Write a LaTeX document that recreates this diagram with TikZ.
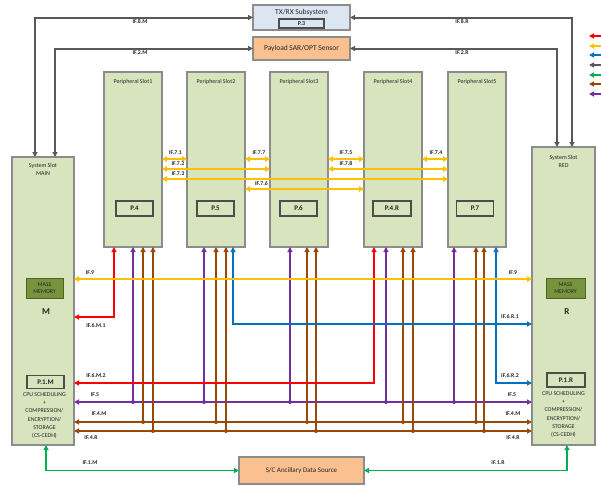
\documentclass[tikz,border=0pt]{standalone}
\usepackage{fontspec}
\setmainfont{Carlito}
\usetikzlibrary{arrows.meta,calc}
\definecolor{slotgreen}{HTML}{D7E4BD}
\definecolor{boxgray}{HTML}{8C8C8C}
\definecolor{innergray}{HTML}{4D4D4D}
\definecolor{peach}{HTML}{FAC090}
\definecolor{txblue}{HTML}{DCE6F2}
\definecolor{massgreen}{HTML}{77933C}
\definecolor{massborder}{HTML}{4F6228}
\definecolor{cred}{HTML}{FF0000}
\definecolor{cyel}{HTML}{FFC000}
\definecolor{cblue}{HTML}{0070C0}
\definecolor{cgray}{HTML}{595959}
\definecolor{cgreen}{HTML}{00B050}
\definecolor{cbrown}{HTML}{984807}
\definecolor{cpurple}{HTML}{7030A0}
\definecolor{txt}{HTML}{262626}
\begin{document}
\begin{tikzpicture}[x=1pt,y=-1pt,
  >={Triangle[length=5pt,width=5pt]},
  box/.style={draw=boxgray,line width=1.3pt,inner sep=0pt,outer sep=0pt},
  slotbox/.style={box,fill=slotgreen,minimum width=58pt,minimum height=175pt,anchor=north west},
  pbox/.style={draw=innergray,line width=1.2pt,fill=slotgreen,inner sep=0pt,outer sep=0pt,minimum width=37pt,minimum height=15pt,font=\fontsize{7}{8}\selectfont\bfseries,text=txt},
  massbox/.style={draw=massborder,line width=0.8pt,fill=massgreen,inner sep=0pt,minimum width=37pt,minimum height=20pt,align=center,font=\fontsize{5.8}{7}\selectfont,text=txt},
  lbl/.style={inner sep=0pt,font=\fontsize{6}{8}\selectfont,text=txt,align=center},
  iflbl/.style={inner sep=0pt,font=\fontsize{5.8}{6.5}\selectfont\bfseries,text=txt},
  conn/.style={line width=1.7pt},
  ya/.style={line width=2pt,draw=cyel,<->,>={Triangle[length=5pt,width=5.5pt]}},
  rd/.style={conn,draw=cred},
  bl/.style={conn,draw=cblue},
  pu/.style={conn,draw=cpurple},
  br/.style={conn,draw=cbrown},
  gr/.style={conn,draw=cgreen},
  ga/.style={line width=2pt,draw=cgray},
  dotpu/.style={fill=cpurple},
  dotbr/.style={fill=cbrown}
]
\useasboundingbox (0,0) rectangle (601,485);

% ---- top boxes
\node[box,fill=txblue,minimum width=97pt,minimum height=25pt] (txrx) at (301.5,17.5) {};
\node[lbl,font=\fontsize{7.5}{9}\selectfont] (txrxt) at (301.5,12) {TX/RX Subsystem};
\node[draw=innergray,line width=1.2pt,fill=txblue,inner sep=0pt,minimum width=45pt,minimum height=9pt,font=\fontsize{6}{7}\selectfont\bfseries,text=txt] (p3) at (301.5,23.5) {P.3};
\node[box,fill=peach,minimum width=97pt,minimum height=23pt,font=\fontsize{7.5}{9}\selectfont,text=txt] (pay) at (301.5,48.5) {Payload SAR/OPT Sensor};

% ---- system slots
\node[box,fill=slotgreen,minimum width=62pt,minimum height=288pt,anchor=north west] (main) at (12,157) {};
\node[box,fill=slotgreen,minimum width=63pt,minimum height=298pt,anchor=north west] (red) at (532,147) {};
\node[lbl] (maint) at (43,169.5) {System Slot\\MAIN};
\node[lbl] (redt) at (563.5,161) {System Slot\\RED};
\node[massbox] (mmm) at (44.5,288) {MASS\\MEMORY};
\node[massbox,minimum width=39pt] (mmr) at (565.5,288) {MASS\\MEMORY};
\node[inner sep=0pt,font=\fontsize{9}{10}\selectfont\bfseries,text=txt] (mlet) at (46,312) {M};
\node[inner sep=0pt,font=\fontsize{9}{10}\selectfont\bfseries,text=txt] (rlet) at (567,312) {R};
\node[pbox,minimum height=13pt] (p1m) at (45.5,382) {P.1.M};
\node[pbox,minimum width=38pt,minimum height=14pt] (p1r) at (566,380) {P.1.R};
\node[lbl,font=\fontsize{5.9}{8.2}\selectfont] (cpum) at (44.5,415.5) {CPU SCHEDULING\\+\\COMPRESSION/\\ENCRYPTION/\\STORAGE\\(CS-CEDH)};
\node[lbl,font=\fontsize{5.9}{8.2}\selectfont] (cpur) at (563.5,414.5) {CPU SCHEDULING\\+\\COMPRESSION/\\ENCRYPTION/\\STORAGE\\(CS-CEDH)};

% ---- peripheral slots
\node[slotbox] (s1) at (104,72) {};
\node[slotbox] (s2) at (187,72) {};
\node[slotbox] (s3) at (270,72) {};
\node[slotbox] (s4) at (364,72) {};
\node[slotbox] (s5) at (448,72) {};
\node[lbl] (s1t) at (133,82) {Peripheral Slot1};
\node[lbl] (s2t) at (216,82) {Peripheral Slot2};
\node[lbl] (s3t) at (299,82) {Peripheral Slot3};
\node[lbl] (s4t) at (393,82) {Peripheral Slot4};
\node[lbl] (s5t) at (477,82) {Peripheral Slot5};
\node[pbox] (p4) at (134.5,208.5) {P.4};
\node[pbox] (p5) at (215.5,208.5) {P.5};
\node[pbox] (p6) at (298.5,208.5) {P.6};
\node[pbox,minimum width=38pt] (p4r) at (392,208.5) {P.4.R};
\node[pbox] (p7) at (475,208.5) {P.7};

% ---- ancillary
\node[box,fill=peach,minimum width=125pt,minimum height=27pt,font=\fontsize{7}{8}\selectfont,text=txt] (anc) at (301.5,470.5) {S/C Ancillary Data Source};

% ---- gray connectors
\draw[ga,<->] ($(main.north west)+(23,0)$) |- (txrx.west);
\draw[ga,<->] ($(main.north west)+(43,0)$) |- (pay.west);
\draw[ga,<->] ($(red.north west)+(40,0)$) |- (txrx.east);
\draw[ga,<->] ($(red.north west)+(25,0)$) |- (pay.east);
\node[iflbl] (l8m) at (140,22) {IF.8.M};
\node[iflbl] (l2m) at (140,53) {IF.2.M};
\node[iflbl] (l8r) at (462,22) {IF.8.R};
\node[iflbl] (l2r) at (462,53) {IF.2.R};

% ---- green connectors
\draw[gr,<->] ($(main.south west)+(34,0)$) |- (anc.west);
\draw[gr,<->] ($(red.south west)+(35,0)$) |- (anc.east);
\node[iflbl] (l1m) at (90,463) {IF.1.M};
\node[iflbl] (l1r) at (498,463) {IF.1.R};

% ---- bus junctions
\coordinate (pu1) at (133,402);
\coordinate (pu2) at (204,402);
\coordinate (pu3) at (290,402);
\coordinate (pu4) at (386,402);
\coordinate (pu5) at (454,402);
\coordinate (bm1) at (143,422);
\coordinate (bm2) at (216,422);
\coordinate (bm3) at (307,422);
\coordinate (bm4) at (403,422);
\coordinate (bm5) at (476,422);
\coordinate (bn1) at (153,431);
\coordinate (bn2) at (226,431);
\coordinate (bn3) at (316,431);
\coordinate (bn4) at (413,431);
\coordinate (bn5) at (484,431);
\coordinate (cm1) at (114,317);
\coordinate (cm2) at (374,383);
\coordinate (cr1) at (233,324);
\coordinate (cr2) at (496,383);

% ---- horizontal buses
\draw[pu,<->] (main.east |- pu1) -- (red.west |- pu1);
\draw[br,<->] (main.east |- bm1) -- (red.west |- bm1);
\draw[br,<->] (main.east |- bn1) -- (red.west |- bn1);

% ---- verticals
\draw[pu,->] (pu1) -- (pu1 |- s1.south);
\draw[pu,->] (pu2) -- (pu2 |- s2.south);
\draw[pu,->] (pu3) -- (pu3 |- s3.south);
\draw[pu,->] (pu4) -- (pu4 |- s4.south);
\draw[pu,->] (pu5) -- (pu5 |- s5.south);
\draw[br,->] (bm1) -- (bm1 |- s1.south);
\draw[br,->] (bm2) -- (bm2 |- s2.south);
\draw[br,->] (bm3) -- (bm3 |- s3.south);
\draw[br,->] (bm4) -- (bm4 |- s4.south);
\draw[br,->] (bm5) -- (bm5 |- s5.south);
\draw[br,->] (bn1) -- (bn1 |- s1.south);
\draw[br,->] (bn2) -- (bn2 |- s2.south);
\draw[br,->] (bn3) -- (bn3 |- s3.south);
\draw[br,->] (bn4) -- (bn4 |- s4.south);
\draw[br,->] (bn5) -- (bn5 |- s5.south);

% ---- red / blue point-to-point
\draw[rd,<->] (cm1 |- s1.south) -- (cm1) -- (cm1 -| main.east);
\draw[rd,<->] (cm2 |- s4.south) -- (cm2) -- (cm2 -| main.east);
\draw[bl,<->] (cr1 |- s2.south) -- (cr1) -- (cr1 -| red.west);
\draw[bl,<->] (cr2 |- s5.south) -- (cr2) -- (cr2 -| red.west);

% ---- dots
\foreach \j in {pu1,pu2,pu3,pu4,pu5} \fill[dotpu] (\j) circle (2pt);
\foreach \j in {bm1,bm2,bm3,bm4,bm5,bn1,bn2,bn3,bn4,bn5} \fill[dotbr] (\j) circle (2pt);

% ---- IF.9
\coordinate (y9) at (0,279);
\draw[ya] (main.east |- y9) -- (red.west |- y9);

% ---- yellow inter-slot
\coordinate (r1) at (0,159);
\coordinate (r2) at (0,169);
\coordinate (r3) at (0,179);
\coordinate (r4) at (0,189);
\draw[ya] (s1.east |- r1) -- (s2.west |- r1);
\draw[ya] (s2.east |- r1) -- (s3.west |- r1);
\draw[ya] (s3.east |- r1) -- (s4.west |- r1);
\draw[ya] (s4.east |- r1) -- (s5.west |- r1);
\draw[ya] (s1.east |- r2) -- (s3.west |- r2);
\draw[ya] (s3.east |- r2) -- (s5.west |- r2);
\draw[ya] (s1.east |- r3) -- (s5.west |- r3);
\draw[ya] (s2.east |- r4) -- (s4.west |- r4);
\node[iflbl] (l71) at (175.5,152.5) {IF.7.1};
\node[iflbl] (l77) at (259,152.5) {IF.7.7};
\node[iflbl] (l75) at (346,152.5) {IF.7.5};
\node[iflbl] (l74) at (436,152.5) {IF.7.4};
\node[iflbl] (l72) at (178,163.5) {IF.7.2};
\node[iflbl] (l78) at (346,163.5) {IF.7.8};
\node[iflbl] (l73) at (178,174) {IF.7.3};
\node[iflbl] (l76) at (261.5,183.5) {IF.7.6};

% ---- bus labels
\node[iflbl] (l9a) at (90,273) {IF.9};
\node[iflbl] (l9b) at (513,273) {IF.9};
\node[iflbl] (l6m1) at (96,326) {IF.6.M.1};
\node[iflbl] (l6r1) at (510,317) {IF.6.R.1};
\node[iflbl] (l6m2) at (96,376) {IF.6.M.2};
\node[iflbl] (l6r2) at (510,375.5) {IF.6.R.2};
\node[iflbl] (l5a) at (95,395) {IF.5};
\node[iflbl] (l5b) at (512,395) {IF.5};
\node[iflbl] (l4ma) at (99,414) {IF.4.M};
\node[iflbl] (l4mb) at (513,413.5) {IF.4.M};
\node[iflbl] (l4ra) at (91,438) {IF.4.R};
\node[iflbl] (l4rb) at (513,438) {IF.4.R};

% ---- legend arrows
\coordinate (g1a) at (601,36);  \coordinate (g1b) at (589,36);
\coordinate (g2a) at (601,46);  \coordinate (g2b) at (589,46);
\coordinate (g3a) at (601,55);  \coordinate (g3b) at (589,55);
\coordinate (g4a) at (601,65);  \coordinate (g4b) at (589,65);
\coordinate (g5a) at (601,75);  \coordinate (g5b) at (589,75);
\coordinate (g6a) at (601,84);  \coordinate (g6b) at (589,84);
\coordinate (g7a) at (601,94);  \coordinate (g7b) at (589,94);
\draw[rd,->] (g1a) -- (g1b);
\draw[conn,draw=cyel,->] (g2a) -- (g2b);
\draw[bl,->] (g3a) -- (g3b);
\draw[ga,->] (g4a) -- (g4b);
\draw[gr,->] (g5a) -- (g5b);
\draw[br,->] (g6a) -- (g6b);
\draw[pu,->] (g7a) -- (g7b);
\end{tikzpicture}
\end{document}
